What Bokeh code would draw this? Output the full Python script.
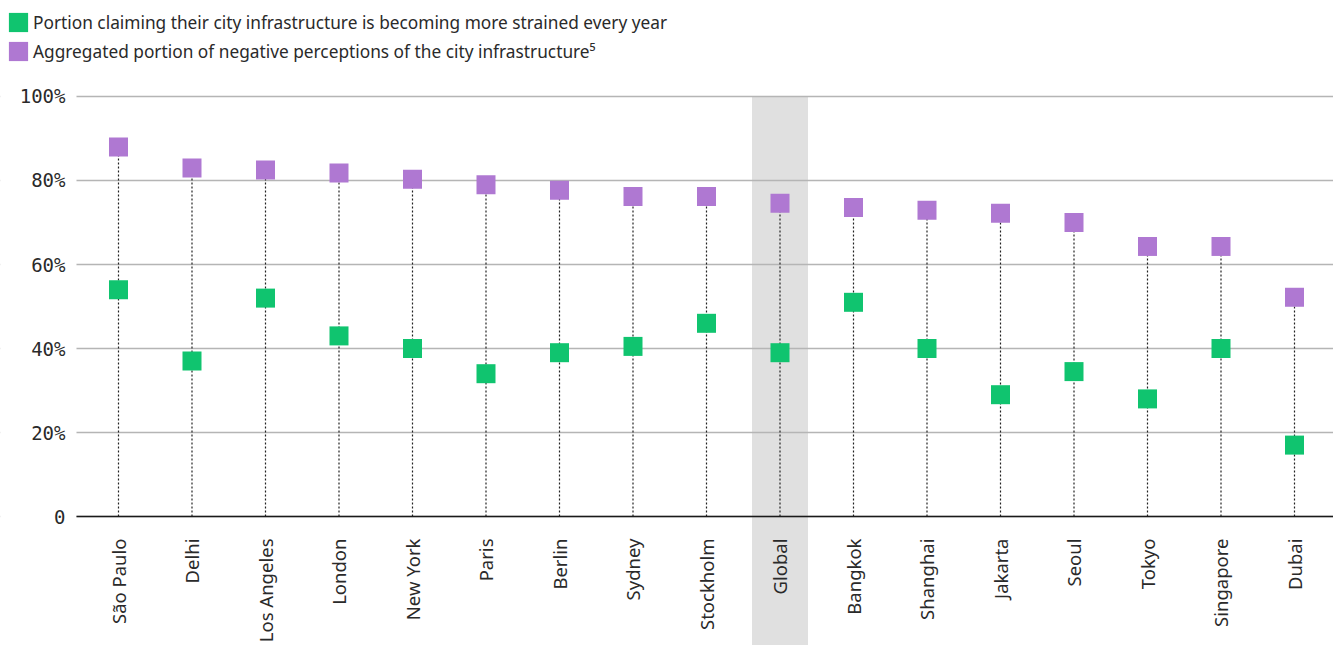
import math
from bokeh.plotting import figure
from bokeh.models import (Range1d, FixedTicker, BoxAnnotation, Legend, LegendItem,
                          ColumnDataSource)
from bokeh.embed import file_html
from bokeh.resources import INLINE

# ---- data ----
cities = ["São Paulo", "Delhi", "Los Angeles", "London", "New York", "Paris",
          "Berlin", "Sydney", "Stockholm", "Global", "Bangkok", "Shanghai",
          "Jakarta", "Seoul", "Tokyo", "Singapore", "Dubai"]
strained = [54, 37, 52, 43, 40, 34, 39, 40.5, 46, 39, 51, 40, 29, 34.5, 28, 40, 17]
negative = [88, 83, 82.5, 81.8, 80.3, 79, 77.7, 76.2, 76.2, 74.6, 73.6, 72.9,
            72.2, 70, 64.3, 64.3, 52.2]
y_ticks = [0, 20, 40, 60, 80, 100]
y_tick_labels = ["0", "20%", "40%", "60%", "80%", "100%"]
highlight = "Global"
series_labels = [
    "Portion claiming their city infrastructure is becoming more strained every year",
    "Aggregated portion of negative perceptions of the city infrastructure\u2075",
]

GREEN = "#10c46f"
PURPLE = "#af78d2"
TEXT = "#2a2a2a"

n = len(cities)
xs = list(range(n))
src = ColumnDataSource(dict(x=xs, city=cities, strained=strained,
                            negative=negative, zero=[0] * n))

X0, X1 = -1.6054, 16.5306      # x range of the whole drawing area
XL = -0.5714                   # left edge of the plotting region
p = figure(width=1333, height=645, output_backend="svg", toolbar_location=None,
           x_range=Range1d(X0, X1), y_range=Range1d(-30.714, 122.857),
           min_border=0, min_border_left=0, min_border_right=0,
           min_border_top=0, min_border_bottom=0)
p.outline_line_color = None
p.background_fill_color = "white"
p.border_fill_color = "white"

# highlighted column band
hi = cities.index(highlight)
band = BoxAnnotation(left=hi - 0.381, right=hi + 0.381, top=100,
                     fill_color="#e0e0e0", fill_alpha=1.0, line_color=None,
                     level="image")
p.add_layout(band)

# grid
p.xgrid.visible = False
yt = FixedTicker(ticks=y_ticks)
p.ygrid.ticker = yt
p.ygrid.grid_line_color = "#b5b5b5"
p.ygrid.grid_line_width = 1.6
# keep the label gutter left of the plotting region clean
gutter = BoxAnnotation(right=XL, fill_color="white", fill_alpha=1.0,
                       line_color=None, level="underlay")
p.add_layout(gutter)

# y axis at the left edge of the plotting region
ya = p.yaxis[0]
ya.fixed_location = XL
ya.ticker = yt
ya.major_label_overrides = {t: l for t, l in zip(y_ticks, y_tick_labels)}
ya.axis_line_color = None
ya.major_tick_line_color = None
ya.minor_tick_line_color = None
ya.major_label_standoff = 5
ya.major_label_text_font = "DejaVu Sans Mono"
ya.major_label_text_font_size = "19px"
ya.major_label_text_color = TEXT

# x axis placed at y = 0
xa = p.xaxis[0]
xa.fixed_location = 0
xa.bounds = (XL, X1)
xa.ticker = FixedTicker(ticks=xs)
xa.major_label_overrides = {i: c for i, c in enumerate(cities)}
xa.major_label_orientation = math.pi / 2
xa.axis_line_color = "#1a1a1a"
xa.axis_line_width = 1.5
xa.major_tick_line_color = None
xa.minor_tick_line_color = None
xa.major_label_standoff = 16
xa.major_label_text_font = "Noto Sans"
xa.major_label_text_font_size = "18.5px"
xa.major_label_text_color = TEXT

# dotted stems
p.segment(x0="x", y0="zero", x1="x", y1="negative", source=src,
          line_color="#222222", line_width=1.2, line_dash="2 2")

r_s = p.rect(x="x", y="strained", width=19, height=19, width_units="screen",
             height_units="screen", fill_color=GREEN, line_color=None, source=src)
r_n = p.rect(x="x", y="negative", width=19, height=19, width_units="screen",
             height_units="screen", fill_color=PURPLE, line_color=None, source=src)

legend = Legend(items=[LegendItem(label=series_labels[0], renderers=[r_s]),
                       LegendItem(label=series_labels[1], renderers=[r_n])],
                location=(6, 582), orientation="vertical",
                glyph_width=24, glyph_height=24, label_height=24,
                spacing=5, padding=0, margin=0, label_standoff=3,
                border_line_color=None, background_fill_alpha=0,
                label_text_font="Noto Sans", label_text_font_size="17.3px",
                label_text_color=TEXT)
p.add_layout(legend)

open("out.html", "w").write(file_html(p, INLINE))
